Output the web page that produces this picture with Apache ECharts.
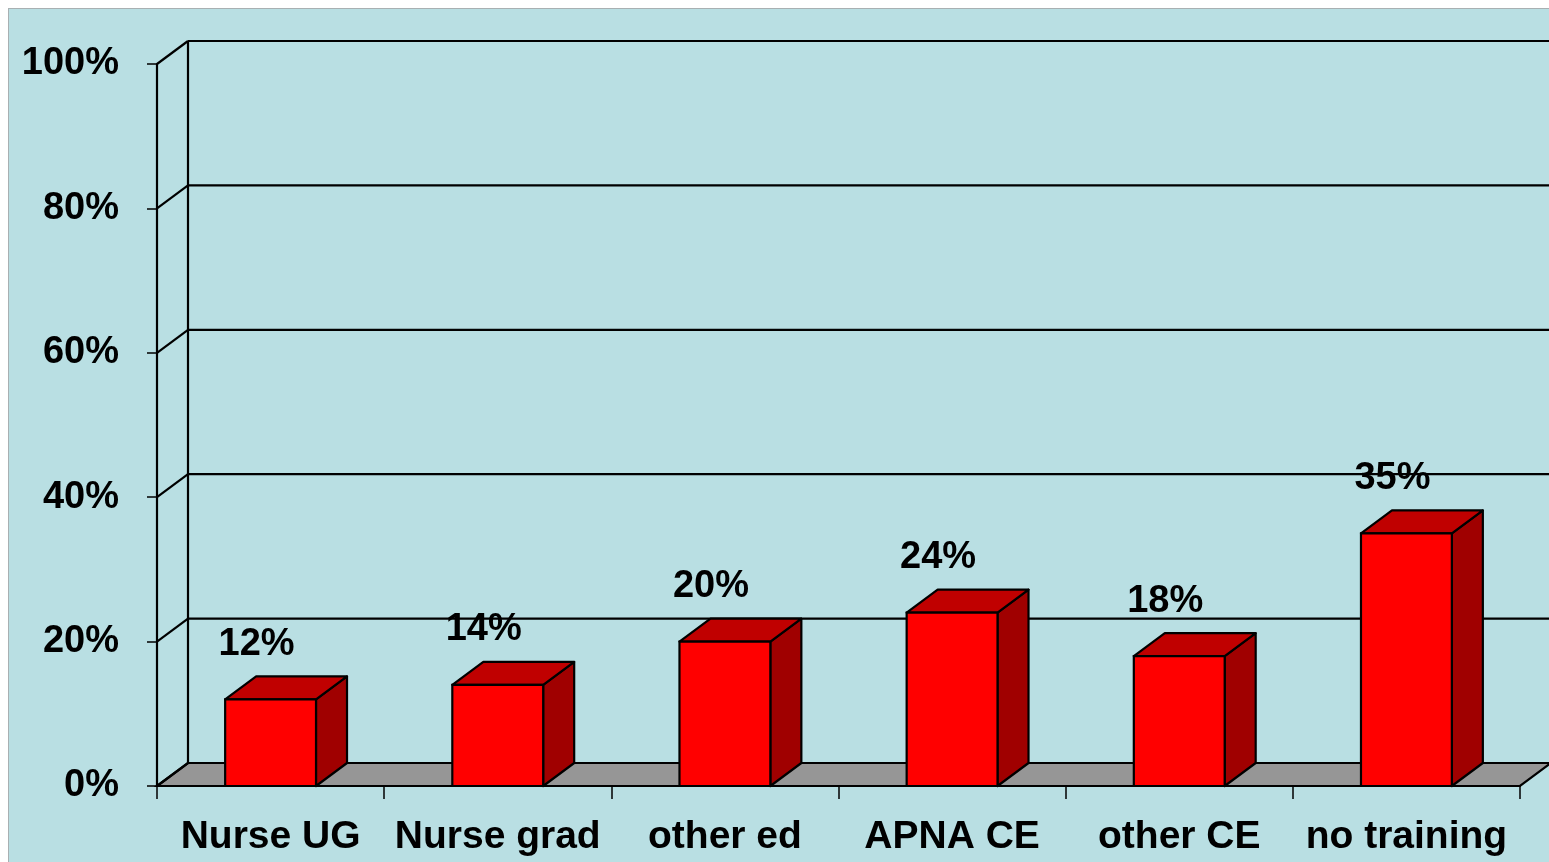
<!DOCTYPE html>
<html>
<head>
<meta charset="utf-8">
<script src="https://cdn.jsdelivr.net/npm/echarts@6/dist/echarts.min.js"></script>
<style>
  html, body { margin: 0; padding: 0; background: #ffffff; }
  #bg { position: absolute; left: 8px; top: 8px; width: 1560px; height: 870px;
        background: #b9dfe3; border-left: 1.5px solid #a8b0b2; border-top: 1.5px solid #a8b0b2; }
  #chart { position: absolute; left: 0; top: 0; width: 1549px; height: 862px; }
</style>
</head>
<body>
<div id="bg"></div>
<div id="chart"></div>
<script>
// ---- data ----
const categories = ['Nurse UG', 'Nurse grad', 'other ed', 'APNA CE', 'other CE', 'no training'];
const values = [12, 14, 20, 24, 18, 35];
const yTicks = [0, 20, 40, 60, 80, 100];

// ---- style constants ----
const DX = 31, DY = -23;          // 3D depth offset
const FONT = 'Arial, "Liberation Sans", sans-serif';
const LW = 2.2;

const chart = echarts.init(document.getElementById('chart'));

function wallItem(params, api) {
  const cs = params.coordSys;
  const v = api.value(0);
  const y = api.coord([0, v])[1];
  const children = [];
  const x0 = cs.x, x1 = cs.x + cs.width;
  if (v === 0) {
    children.push({
      type: 'polygon',
      shape: { points: [[x0, y], [x1, y], [x1 + DX, y + DY], [x0 + DX, y + DY]] },
      style: { fill: '#969696', stroke: '#000', lineWidth: LW }
    });
    const yTop = api.coord([0, 100])[1];
    children.push({
      type: 'line',
      shape: { x1: x0 + DX, y1: y + DY, x2: x0 + DX, y2: yTop + DY },
      style: { stroke: '#000', lineWidth: LW }
    });
  }
  children.push({
    type: 'line',
    shape: { x1: x0 + DX, y1: y + DY, x2: x1 + DX + 10, y2: y + DY },
    style: { stroke: '#000', lineWidth: LW }
  });
  children.push({
    type: 'line',
    shape: { x1: x0, y1: y, x2: x0 + DX, y2: y + DY },
    style: { stroke: '#000', lineWidth: LW }
  });
  return { type: 'group', children: children };
}

function barItem(params, api) {
  const idx = api.value(0);
  const v = api.value(1);
  const top = api.coord([idx, v]);
  const base = api.coord([idx, 0]);
  const w = api.size([1, 0])[0] * 0.4;
  const xl = top[0] - w / 2, xr = top[0] + w / 2;
  const yt = top[1], yb = base[1];
  return {
    type: 'group',
    children: [
      { type: 'polygon',
        shape: { points: [[xr, yt], [xr + DX, yt + DY], [xr + DX, yb + DY], [xr, yb]] },
        style: { fill: '#a00000', stroke: '#000', lineWidth: LW, lineJoin: 'round' } },
      { type: 'polygon',
        shape: { points: [[xl, yt], [xr, yt], [xr + DX, yt + DY], [xl + DX, yt + DY]] },
        style: { fill: '#c00000', stroke: '#000', lineWidth: LW, lineJoin: 'round' } },
      { type: 'rect',
        shape: { x: xl, y: yt, width: w, height: yb - yt },
        style: { fill: '#ff0000', stroke: '#000', lineWidth: LW } },
      { type: 'text',
        x: top[0] - 14, y: yt - 55,
        style: { text: v + '%', fill: '#000', font: 'bold 38px ' + FONT,
                 align: 'center', verticalAlign: 'middle' } }
    ]
  };
}

chart.setOption({
  animation: false,
  backgroundColor: 'transparent',
  grid: { left: 157, right: 29, top: 64, bottom: 76, containLabel: false },
  xAxis: {
    type: 'category',
    data: categories,
    boundaryGap: true,
    axisLine: { show: true, lineStyle: { color: '#000', width: LW } },
    axisTick: { show: true, length: 13, lineStyle: { color: '#000', width: 1.5 } },
    axisLabel: { margin: 32, color: '#000', fontSize: 39, fontWeight: 'bold', fontFamily: FONT, interval: 0 },
    splitLine: { show: false },
    z: 1
  },
  yAxis: {
    type: 'value',
    min: 0, max: 100, interval: 20,
    axisLine: { show: true, lineStyle: { color: '#000', width: LW } },
    axisTick: { show: true, length: 10, lineStyle: { color: '#000', width: 1.5 } },
    axisLabel: { margin: 38, color: '#000', fontSize: 38, fontWeight: 'bold', fontFamily: FONT,
                 formatter: function (v) { return v + '%'; } },
    splitLine: { show: false }
  },
  series: [
    {
      type: 'custom',
      renderItem: wallItem,
      data: yTicks.map(function (t) { return [t]; }),
      encode: { y: 0 },
      clip: false,
      silent: true,
      z: 0
    },
    {
      type: 'custom',
      renderItem: barItem,
      data: values.map(function (v, i) { return [i, v]; }),
      encode: { x: 0, y: 1 },
      clip: false,
      z: 2
    }
  ]
});
</script>
</body>
</html>
